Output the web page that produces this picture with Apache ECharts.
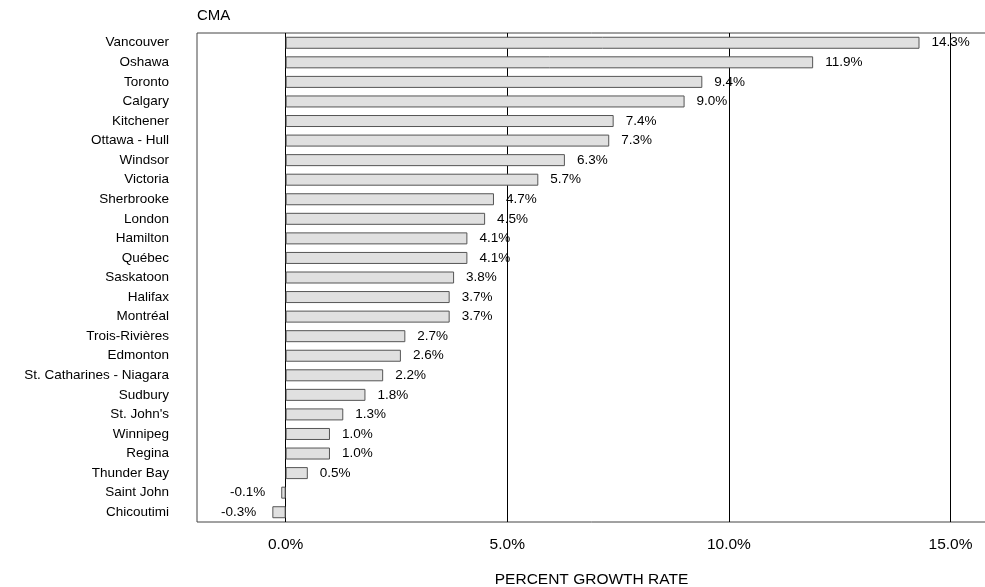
<!DOCTYPE html>
<html>
<head>
<meta charset="utf-8">
<script src="https://cdn.jsdelivr.net/npm/echarts@6/dist/echarts.min.js"></script>
<style>
html,body{margin:0;padding:0;background:#fff;overflow:hidden;}
#chart{width:985px;height:587px;}
</style>
</head>
<body>
<div id="chart"></div>
<script>
const categories = ["Vancouver","Oshawa","Toronto","Calgary","Kitchener","Ottawa - Hull","Windsor","Victoria","Sherbrooke","London","Hamilton","Québec","Saskatoon","Halifax","Montréal","Trois-Rivières","Edmonton","St. Catharines - Niagara","Sudbury","St. John's","Winnipeg","Regina","Thunder Bay","Saint John","Chicoutimi"];
const growth = [14.3,11.9,9.4,9.0,7.4,7.3,6.3,5.7,4.7,4.5,4.1,4.1,3.8,3.7,3.7,2.7,2.6,2.2,1.8,1.3,1.0,1.0,0.5,-0.1,-0.3];
const tickValues = [0,5,10,15];

const FONT = '"Liberation Sans", Arial, sans-serif';
const chart = echarts.init(document.getElementById('chart'), null, {renderer:'canvas'});
const data = growth.map(v => ({
  value: v,
  label: { position: v < 0 ? 'left' : 'right', distance: v < 0 ? 16 : 12 }
}));
chart.setOption({
  animation: false,
  backgroundColor: '#fff',
  title: {
    text: 'CMA', left: 197, top: 8, padding: 0,
    textStyle: { fontFamily: FONT, fontSize: 15, fontWeight: 'normal', color: '#000' }
  },
  grid: { left: 197, right: -1, top: 33, height: 489, outerBoundsMode: 'none', containLabel: false,
    show: true, borderColor: '#444', borderWidth: 1, backgroundColor: 'transparent' },
  xAxis: {
    type: 'value', min: -2, max: 15.8,
    name: 'PERCENT GROWTH RATE', nameLocation: 'middle', nameGap: 50,
    nameTextStyle: { fontFamily: FONT, fontSize: 15.5, color: '#000' },
    axisLine: { show: false },
    axisTick: { show: false, customValues: tickValues },
    axisLabel: { customValues: tickValues, margin: 15, fontFamily: FONT, fontSize: 15.5, color: '#000',
      formatter: v => v.toFixed(1) + '%' },
    splitLine: { show: true, lineStyle: { color: '#000', width: 1, type: 'solid' } }
  },
  yAxis: {
    type: 'category', data: categories, inverse: true,
    axisLine: { show: false }, axisTick: { show: false },
    axisLabel: { margin: 28, fontFamily: FONT, fontSize: 13.5, color: '#000' },
    splitLine: { show: false }
  },
  series: [{
    type: 'bar', data: data, barWidth: 12,
    itemStyle: { color: '#e0e0e0', borderColor: '#555', borderWidth: 1 },
    label: { show: true, fontFamily: FONT, fontSize: 13.5, color: '#000',
      formatter: p => p.value.toFixed(1) + '%' }
  }]
});
</script>
</body>
</html>
